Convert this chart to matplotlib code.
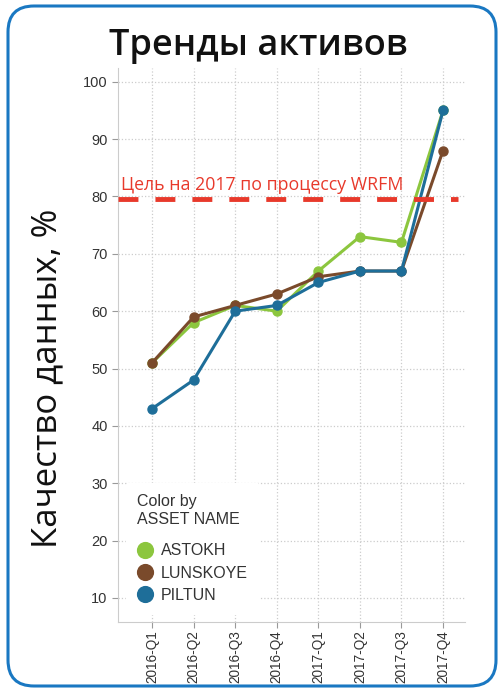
import matplotlib
matplotlib.use("Agg")
import matplotlib.pyplot as plt
from matplotlib.patches import FancyBboxPatch
from matplotlib.transforms import IdentityTransform

# data
quarters = ["2016-Q1", "2016-Q2", "2016-Q3", "2016-Q4",
            "2017-Q1", "2017-Q2", "2017-Q3", "2017-Q4"]
astokh = [51, 58, 61, 60, 67, 73, 72, 95]
lunskoye = [51, 59, 61, 63, 66, 67, 67, 88]
piltun = [43, 48, 60, 61, 65, 67, 67, 95]
target = 79.5
target_label = "Цель на 2017 по процессу WRFM"

fig = plt.figure(figsize=(4.99, 6.90), dpi=100)
ax = fig.add_axes([0.2365, 0.0986, 0.6955, 0.8028])

x = list(range(len(quarters)))
# green, brown, blue
ax.plot(x, astokh, "-o", color="#8cc63e", lw=2.2, ms=6.5, label="ASTOKH", zorder=3)
ax.plot(x, lunskoye, "-o", color="#7a4a2b", lw=2.2, ms=6.5, label="LUNSKOYE", zorder=3)
ax.plot(x, piltun, "-o", color="#1e6e99", lw=2.2, ms=6.5, label="PILTUN", zorder=3)

# target line
ax.axhline(target, xmax=0.98, color="#e8392b", lw=3.5, dashes=(4.1, 3.5), zorder=4)
ax.text(-0.75, target + 1.0, target_label, color="#e8392b", fontsize=12.8,
        family="Open Sans", va="bottom", ha="left")

ax.set_xlim(-0.82, 7.53)
ax.set_ylim(5.8, 102.4)
ax.set_yticks(range(10, 101, 10))
ax.set_xticks(x)
ax.set_xticklabels(quarters, rotation=90)
ax.tick_params(colors="#999999", labelcolor="#333333", labelsize=10.5, length=4)
ax.tick_params(axis="x", labelsize=9.8, pad=2)
for lbl in ax.get_xticklabels() + ax.get_yticklabels():
    lbl.set_family("Liberation Sans")

ax.grid(True, color="#cccccc", ls=":", lw=0.9)
ax.set_axisbelow(True)
for s in ["top", "right"]:
    ax.spines[s].set_visible(False)
for s in ["left", "bottom"]:
    ax.spines[s].set_color("#cccccc")

leg = ax.legend(title="Color by\nASSET NAME", loc="lower left",
                bbox_to_anchor=(0.0, 0.0), frameon=True, framealpha=1,
                edgecolor="white", prop={"family": "Liberation Sans", "size": 11.5},
                markerscale=1.75, handlelength=1.0, handletextpad=0.5,
                labelspacing=0.45, borderpad=0.7)
for h in leg.legend_handles:
    h.set_linestyle("None")
leg.get_title().set_family("Liberation Sans")
leg.get_title().set_fontsize(11.5)
leg.get_title().set_color("#333333")
leg._legend_box.align = "left"
leg._legend_box.sep = 12
for t in leg.get_texts():
    t.set_color("#333333")
leg.set_zorder(5)

fig.text(0.518, 0.934, "Тренды активов", fontsize=26, family="Open Sans",
         weight="semibold", ha="center", va="center", color="#111111")
fig.text(0.095, 0.452, "Качество данных, %", fontsize=25, family="Open Sans",
         rotation=90, ha="center", va="center", color="#111111")

# rounded border
border = FancyBboxPatch((20, 16), 464, 656, boxstyle="round,pad=12,rounding_size=26",
                        transform=IdentityTransform(), fill=False,
                        edgecolor="#1a78c2", lw=2.2)
fig.patches.append(border)

fig.savefig("out.png", dpi=100)
